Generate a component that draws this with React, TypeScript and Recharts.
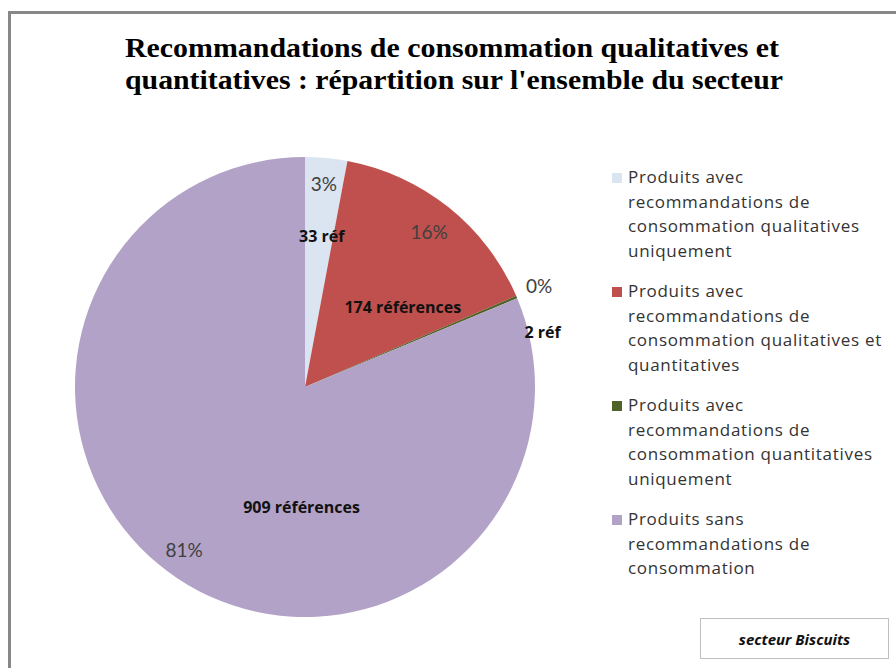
import React from 'react';
import { PieChart, Pie, Cell, Legend } from 'recharts';

const categories = [
  'Produits avec recommandations de consommation qualitatives uniquement',
  'Produits avec recommandations de consommation qualitatives et quantitatives',
  'Produits avec recommandations de consommation quantitatives uniquement',
  'Produits sans recommandations de consommation',
];
const legendLines = [
  ['Produits avec', 'recommandations de', 'consommation qualitatives', 'uniquement'],
  ['Produits avec', 'recommandations de', 'consommation qualitatives et', 'quantitatives'],
  ['Produits avec', 'recommandations de', 'consommation quantitatives', 'uniquement'],
  ['Produits sans', 'recommandations de', 'consommation'],
];
const refCounts = [33, 174, 2, 909];
const refLabels = ['33 réf', '174 références', '2 réf', '909 références'];
const percentLabels = ['3%', '16%', '0%', '81%'];
const colors = ['#DBE5F1', '#C0504D', '#4F6228', '#B3A2C7'];

// label placement: radius factor (relative to outer radius) and angle offset from slice mid-angle
const pctPlacement = [
  { r: 0.89, da: 0 },
  { r: 0.865, da: 0 },
  { r: 1.11, da: 0.5 },
  { r: 0.88, da: -3 },
];
const refPlacement = [
  { r: 0.66, da: -1 },
  { r: 0.55, da: -12 },
  { r: 1.06, da: -10 },
  { r: 0.52, da: 32 },
];

const data = categories.map((name, i) => ({ name, value: refCounts[i] }));
const RAD = Math.PI / 180;

const renderLabel = (props: any) => {
  const { cx, cy, midAngle, outerRadius, index } = props;
  const p = pctPlacement[index];
  const q = refPlacement[index];
  const a1 = (midAngle + p.da) * RAD;
  const a2 = (midAngle + q.da) * RAD;
  const x1 = cx + outerRadius * p.r * Math.cos(a1);
  const y1 = cy - outerRadius * p.r * Math.sin(a1);
  const x2 = cx + outerRadius * q.r * Math.cos(a2);
  const y2 = cy - outerRadius * q.r * Math.sin(a2);
  return (
    <g>
      <text x={x1} y={y1} textAnchor="middle" dominantBaseline="central" fontFamily="Lato, sans-serif" fontSize={19} fill="#404040">
        {percentLabels[index]}
      </text>
      <text x={x2} y={y2} textAnchor="middle" dominantBaseline="central" fontFamily="'Open Sans', sans-serif" fontWeight="bold" fontSize={16} fill="#111">
        {refLabels[index]}
      </text>
    </g>
  );
};

const renderLegend = (props: any) => {
  const { payload } = props;
  return (
    <div style={{ fontFamily: "'Open Sans', sans-serif", fontSize: 17, color: '#333', letterSpacing: 0.7 }}>
      {(payload || []).map((entry: any, i: number) => (
        <div key={i} style={{ display: 'flex', alignItems: 'flex-start', marginBottom: 16 }}>
          <div style={{ width: 10, height: 10, background: colors[i], marginTop: 8, marginRight: 6, flexShrink: 0 }} />
          <div style={{ lineHeight: '24.5px' }}>
            {legendLines[i].map((l, j) => (
              <div key={j} style={{ whiteSpace: 'nowrap' }}>{l}</div>
            ))}
          </div>
        </div>
      ))}
    </div>
  );
};

export default function App() {
  return (
    <div style={{ position: 'absolute', left: 0, top: 0, width: 896, height: 668, overflow: 'hidden', background: '#fff' }}>
      <div style={{ position: 'absolute', left: 8, top: 11, width: 1000, height: 1000, border: '3px solid #878787' }} />
      <svg style={{ position: 'absolute', left: 0, top: 0 }} width={896} height={120}>
        <text x={452} y={57} textAnchor="middle" fontFamily="'Liberation Serif', serif" fontWeight="bold" fontSize={28} fill="#000" textLength={654} lengthAdjust="spacingAndGlyphs">
          Recommandations de consommation qualitatives et
        </text>
        <text x={454} y={89} textAnchor="middle" fontFamily="'Liberation Serif', serif" fontWeight="bold" fontSize={28} fill="#000" textLength={658} lengthAdjust="spacingAndGlyphs">
          quantitatives : répartition sur l'ensemble du secteur
        </text>
      </svg>
      <div style={{ position: 'absolute', left: 0, top: 0 }}>
        <PieChart width={896} height={668} margin={{ top: 0, right: 0, bottom: 0, left: 0 }}>
          <Pie
            data={data}
            dataKey="value"
            nameKey="name"
            cx={305}
            cy={387}
            outerRadius={230}
            startAngle={90}
            endAngle={-270}
            stroke="none"
            label={renderLabel}
            labelLine={false}
            isAnimationActive={false}
          >
            {data.map((d, i) => (
              <Cell key={i} fill={colors[i]} />
            ))}
          </Pie>
          <Legend
            layout="vertical"
            content={renderLegend}
            wrapperStyle={{ position: 'absolute', left: 612, top: 165, width: 284 }}
          />
        </PieChart>
      </div>
      <div style={{ position: 'absolute', left: 700, top: 618, width: 189, height: 41, border: '1px solid #bfbfbf', boxSizing: 'border-box', display: 'flex', alignItems: 'center', justifyContent: 'center', fontFamily: "'Open Sans', sans-serif", fontStyle: 'italic', fontWeight: 'bold', fontSize: 15, color: '#111' }}>
        secteur Biscuits
      </div>
    </div>
  );
}
